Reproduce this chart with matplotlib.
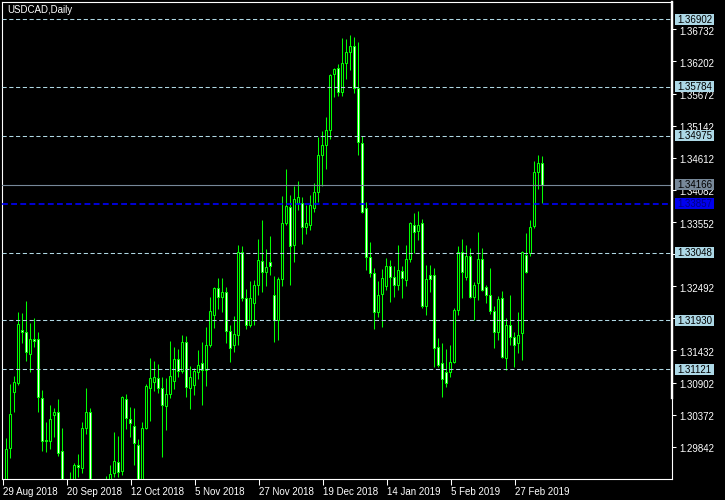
import matplotlib
matplotlib.use("Agg")
import matplotlib.pyplot as plt
from matplotlib.patches import Rectangle
from matplotlib.lines import Line2D
from matplotlib.transforms import IdentityTransform, ScaledTranslation
import numpy as np

plt.rcParams['font.family'] = ['Liberation Sans', 'DejaVu Sans']

title = "USDCAD,Daily"

opens = [1.2918, 1.2983, 1.3074, 1.3090, 1.3177, 1.3174, 1.3137, 1.3162, 1.3162, 1.3064,
         1.2995, 1.2994, 1.3036, 1.3041, 1.2977, 1.2910, 1.2895, 1.2922, 1.2954, 1.2949,
         1.3016, 1.3041, 1.2908, 1.2905, 1.2810, 1.2890, 1.2915, 1.2941, 1.2959, 1.2945,
         1.3063, 1.3030, 1.3018, 1.2988, 1.2920, 1.3015, 1.3082, 1.3092, 1.3097, 1.3082,
         1.3052, 1.3072, 1.3093, 1.3129, 1.3110, 1.3157, 1.3082, 1.3087, 1.3107, 1.3122,
         1.3111, 1.3153, 1.3202, 1.3246, 1.3232, 1.3239, 1.3175, 1.3152, 1.3168, 1.3305,
         1.3229, 1.3186, 1.3221, 1.3252, 1.3291, 1.3273, 1.3289, 1.3234, 1.3194, 1.3261,
         1.3354, 1.3380, 1.3318, 1.3387, 1.3387, 1.3347, 1.3351, 1.3378, 1.3405, 1.3465,
         1.3482, 1.3507, 1.3599, 1.3609, 1.3570, 1.3617, 1.3635, 1.3645, 1.3576, 1.3485,
         1.3378, 1.3297, 1.3271, 1.3207, 1.3236, 1.3249, 1.3283, 1.3264, 1.3252, 1.3275,
         1.3260, 1.3294, 1.3351, 1.3341, 1.3353, 1.3216, 1.3267, 1.3267, 1.3149, 1.3122,
         1.3107, 1.3108, 1.3125, 1.3210, 1.3305, 1.3265, 1.3299, 1.3232, 1.3254, 1.3294,
         1.3248, 1.3234, 1.3209, 1.3174, 1.3229, 1.3131, 1.3185, 1.3166, 1.3155, 1.3172,
         1.3301, 1.3304, 1.3349, 1.3437, 1.3452]

highs = [1.2999, 1.3088, 1.3101, 1.3207, 1.3205, 1.3225, 1.3189, 1.3197, 1.3174, 1.3078,
         1.3025, 1.3053, 1.3048, 1.3063, 1.3015, 1.2926, 1.2943, 1.2957, 1.2972, 1.3025,
         1.3081, 1.3048, 1.2927, 1.2920, 1.2900, 1.2936, 1.2955, 1.3009, 1.3002, 1.3068,
         1.3071, 1.3050, 1.3048, 1.2997, 1.3025, 1.3088, 1.3130, 1.3126, 1.3121, 1.3099,
         1.3097, 1.3159, 1.3149, 1.3146, 1.3169, 1.3167, 1.3118, 1.3114, 1.3144, 1.3157,
         1.3182, 1.3231, 1.3248, 1.3263, 1.3263, 1.3248, 1.3185, 1.3200, 1.3317, 1.3316,
         1.3244, 1.3258, 1.3260, 1.3327, 1.3359, 1.3311, 1.3332, 1.3266, 1.3265, 1.3398,
         1.3443, 1.3400, 1.3415, 1.3423, 1.3397, 1.3383, 1.3400, 1.3419, 1.3496, 1.3505,
         1.3528, 1.3599, 1.3610, 1.3616, 1.3659, 1.3658, 1.3664, 1.3661, 1.3652, 1.3497,
         1.3388, 1.3322, 1.3279, 1.3258, 1.3278, 1.3295, 1.3293, 1.3282, 1.3317, 1.3282,
         1.3317, 1.3356, 1.3370, 1.3373, 1.3360, 1.3284, 1.3284, 1.3279, 1.3163, 1.3155,
         1.3145, 1.3152, 1.3213, 1.3316, 1.3327, 1.3317, 1.3313, 1.3257, 1.3339, 1.3312,
         1.3252, 1.3279, 1.3216, 1.3233, 1.3241, 1.3196, 1.3235, 1.3174, 1.3206, 1.3307,
         1.3337, 1.3359, 1.3456, 1.3466, 1.3464]

lows = [1.2910, 1.2966, 1.3042, 1.3087, 1.3156, 1.3126, 1.3108, 1.3149, 1.3041, 1.2978,
        1.2975, 1.2981, 1.3001, 1.2969, 1.2905, 1.2880, 1.2875, 1.2915, 1.2934, 1.2941,
        1.3005, 1.2900, 1.2885, 1.2782, 1.2785, 1.2875, 1.2905, 1.2935, 1.2934, 1.2938,
        1.3013, 1.3001, 1.2954, 1.2905, 1.2910, 1.3014, 1.3026, 1.3077, 1.3073, 1.2967,
        1.3012, 1.3065, 1.3080, 1.3099, 1.3106, 1.3067, 1.3046, 1.3069, 1.3096, 1.3053,
        1.3085, 1.3149, 1.3181, 1.3212, 1.3206, 1.3155, 1.3125, 1.3140, 1.3152, 1.3225,
        1.3179, 1.3182, 1.3185, 1.3234, 1.3240, 1.3250, 1.3268, 1.3158, 1.3160, 1.3250,
        1.3350, 1.3251, 1.3290, 1.3375, 1.3319, 1.3336, 1.3342, 1.3371, 1.3389, 1.3414,
        1.3443, 1.3492, 1.3562, 1.3563, 1.3563, 1.3592, 1.3606, 1.3568, 1.3466, 1.3370,
        1.3276, 1.3265, 1.3179, 1.3199, 1.3182, 1.3243, 1.3224, 1.3232, 1.3243, 1.3229,
        1.3249, 1.3290, 1.3304, 1.3326, 1.3213, 1.3201, 1.3239, 1.3116, 1.3116, 1.3067,
        1.3083, 1.3100, 1.3122, 1.3201, 1.3230, 1.3260, 1.3229, 1.3194, 1.3227, 1.3241,
        1.3221, 1.3203, 1.3147, 1.3161, 1.3130, 1.3111, 1.3152, 1.3116, 1.3139, 1.3127,
        1.3271, 1.3299, 1.3346, 1.3410, 1.3387]

closes = [1.2980, 1.3038, 1.3091, 1.3187, 1.3174, 1.3140, 1.3162, 1.3159, 1.3066, 1.2993,
          1.2993, 1.3030, 1.3041, 1.2974, 1.2912, 1.2895, 1.2922, 1.2955, 1.2951, 1.3016,
          1.3041, 1.2908, 1.2912, 1.2810, 1.2890, 1.2915, 1.2940, 1.2960, 1.2942, 1.3066,
          1.3031, 1.3023, 1.2990, 1.2915, 1.3016, 1.3084, 1.3097, 1.3099, 1.3082, 1.3053,
          1.3071, 1.3101, 1.3129, 1.3110, 1.3157, 1.3083, 1.3099, 1.3109, 1.3120, 1.3111,
          1.3153, 1.3209, 1.3246, 1.3232, 1.3239, 1.3176, 1.3148, 1.3170, 1.3305, 1.3229,
          1.3186, 1.3229, 1.3252, 1.3293, 1.3273, 1.3281, 1.3282, 1.3194, 1.3261, 1.3353,
          1.3382, 1.3315, 1.3394, 1.3397, 1.3347, 1.3353, 1.3383, 1.3404, 1.3466, 1.3482,
          1.3507, 1.3598, 1.3607, 1.3570, 1.3617, 1.3636, 1.3646, 1.3576, 1.3487, 1.3371,
          1.3297, 1.3271, 1.3207, 1.3234, 1.3262, 1.3283, 1.3264, 1.3252, 1.3276, 1.3262,
          1.3294, 1.3353, 1.3339, 1.3350, 1.3217, 1.3261, 1.3261, 1.3147, 1.3120, 1.3096,
          1.3089, 1.3124, 1.3210, 1.3305, 1.3272, 1.3299, 1.3232, 1.3252, 1.3294, 1.3243,
          1.3234, 1.3209, 1.3173, 1.3228, 1.3132, 1.3185, 1.3166, 1.3153, 1.3168, 1.3305,
          1.3272, 1.3347, 1.3438, 1.3452, 1.3416]

date_labels = ["29 Aug 2018", "20 Sep 2018", "12 Oct 2018", "5 Nov 2018", "27 Nov 2018",
               "19 Dec 2018", "14 Jan 2019", "5 Feb 2019", "27 Feb 2019"]
date_bar_index = [0, 16, 32, 48, 64, 80, 96, 112, 128]

ytick_values = [1.29842, 1.30372, 1.30902, 1.31432, 1.31962, 1.32492, 1.33022,
                1.33552, 1.34082, 1.34612, 1.35142, 1.35672, 1.36202, 1.36732]
# tick labels fully covered by level boxes in the original are not shown
hidden_ticks = [1.31962, 1.33022]

level_lines = [1.36902, 1.35784, 1.34975, 1.33048, 1.31930, 1.31121]
blue_level = 1.33857
bid_level = 1.34166

LIME = "#00ff00"
LEVEL_COL = "#b0d8e4"
LEVEL_BOX = "#add8e6"
GRAY = "#778899"

W, H = 725, 500
fig = plt.figure(figsize=(W / 100, H / 100), dpi=100, facecolor="black")
L, R, T, B = 2, 672, 2, 479
ax = fig.add_axes([L / W, 1 - B / H, (R - L) / W, (B - T) / H])
ax.set_facecolor("black")
ax.set_xlim(-1.075, 166.43)
ax.set_ylim(1.29311, 1.37183)

x = np.arange(len(opens))
o = np.array(opens); h = np.array(highs); l = np.array(lows); c = np.array(closes)
ax.vlines(x, l, h, colors=LIME, linewidth=0.75, zorder=2)
fills = ["black" if cc >= oo else "white" for oo, cc in zip(o, c)]
ax.bar(x, np.abs(c - o), bottom=np.minimum(o, c), width=0.5, color=fills,
       edgecolor=LIME, linewidth=0.75, zorder=3)

for lv in level_lines:
    ax.axhline(lv, color=LEVEL_COL, linewidth=0.75, linestyle=(0, (4, 2.5)), zorder=4)
ax.axhline(blue_level, color="#0000ff", linewidth=1.2, linestyle=(0, (3.5, 2)), zorder=4)
ax.axhline(bid_level, color=GRAY, linewidth=0.8, zorder=4)

for s in ax.spines.values():
    s.set_color("white")
    s.set_linewidth(0.8)

ax.yaxis.tick_right()
ax.set_yticks(ytick_values)
ax.set_yticklabels(["" if v in hidden_ticks else f"{v:.5f}" for v in ytick_values])
ax.tick_params(axis="y", colors="white", length=3, width=0.75, pad=2, labelsize=7)
for lab in ax.get_yticklabels():
    lab.set_transform(lab.get_transform() + ScaledTranslation(0, -1.5 / 100, fig.dpi_scale_trans))

ax.set_xticks([i - 0.9 for i in date_bar_index])
ax.set_xticklabels(date_labels, ha="left")
ax.tick_params(axis="x", colors="white", length=4, width=0.75, pad=1.5, labelsize=7)

# thick segment of right border
fig.add_artist(Line2D([672.2, 672.2], [H - 2, H - 398], transform=IdentityTransform(),
                      color="white", linewidth=1.7, zorder=6))

fig.text(7 / W, 1 - 10 / H, title, color="white", fontsize=7, va="center", ha="left")

fig.canvas.draw()

def level_box(value, fc, tc):
    yd = ax.transData.transform((0, value))[1]
    fig.add_artist(Rectangle((675, yd - 5.5), 39, 11, transform=IdentityTransform(),
                             facecolor=fc, edgecolor="none", zorder=8))
    fig.text(677.5, yd - 0.5, f"{value:.5f}", transform=IdentityTransform(), color=tc,
             fontsize=7, va="center", ha="left", zorder=9)

for lv in level_lines:
    level_box(lv, LEVEL_BOX, "black")
level_box(bid_level, GRAY, "black")
level_box(blue_level, "#0000ee", "#000080")

fig.savefig("out.png", dpi=100, facecolor="black")
